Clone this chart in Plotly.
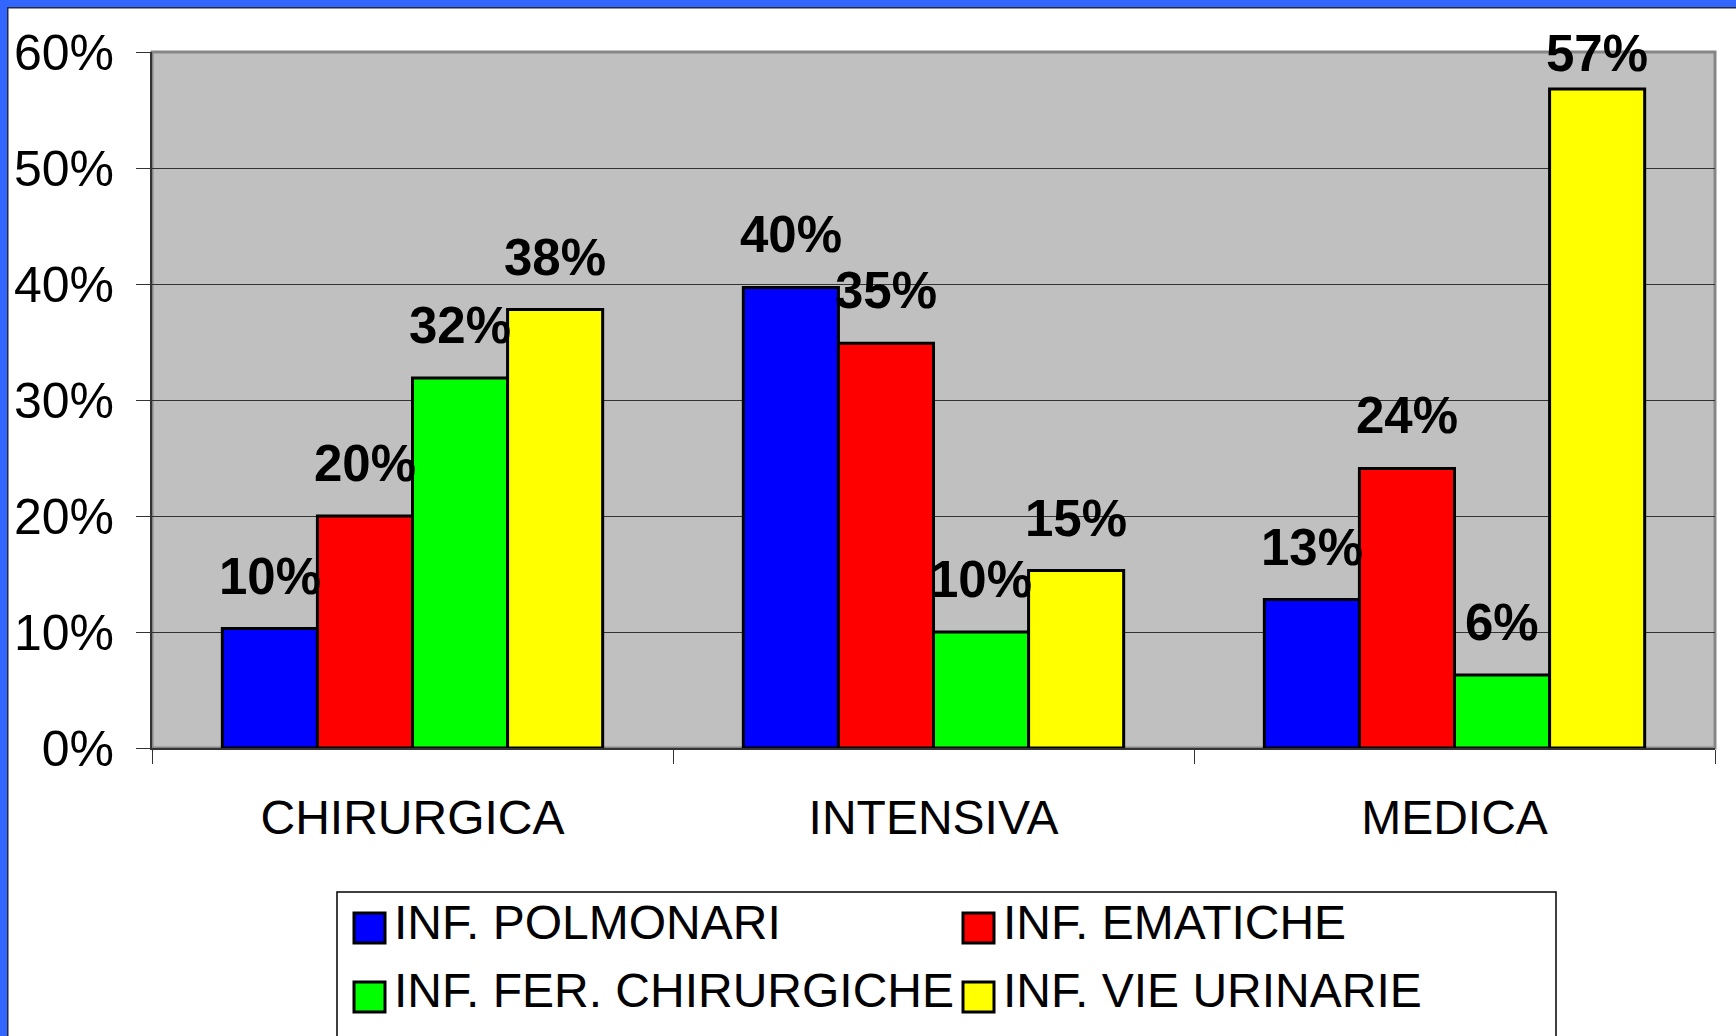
import plotly.graph_objects as go

categories = ["CHIRURGICA", "INTENSIVA", "MEDICA"]
series_names = ["INF. POLMONARI", "INF. EMATICHE", "INF. FER. CHIRURGICHE", "INF. VIE URINARIE"]
series_colors = ["#0000FF", "#FF0000", "#00FF00", "#FFFF00"]
# values as fractions
polmonari = [0.103, 0.397, 0.128]
ematiche = [0.200, 0.349, 0.241]
ferite = [0.319, 0.100, 0.063]
urinarie = [0.378, 0.153, 0.568]
series_values = [polmonari, ematiche, ferite, urinarie]
y_ticks = [0, 0.1, 0.2, 0.3, 0.4, 0.5, 0.6]

W, H = 1736, 1036
ML, MR, MT, MB = 152, 21, 52, 288
PW, PH = W - ML - MR, H - MT - MB
BARGAP = 0.27
YMAX = 0.6
FONT = "Arial, Liberation Sans, sans-serif"
BLUE = "#3366FF"
LABEL_GAP = 22       # px between bar top and label box
LABEL_MIN_TOP = 86   # labels are not pushed above this bar-top pixel row


def px_x(px):
    return (px - ML) / PW


def px_y(py):
    return (H - MB - py) / PH


fig = go.Figure()
for name, color, vals in zip(series_names, series_colors, series_values):
    fig.add_trace(go.Bar(x=categories, y=vals, name=name, marker_color=color,
                         marker_line=dict(color="black", width=3)))

# value labels above each bar (the tallest one is kept inside the chart, like Excel)
bw = (1 - BARGAP) / len(series_values)
for i, vals in enumerate(series_values):
    for j, v in enumerate(vals):
        bar_top = H - MB - v / YMAX * PH
        shift = LABEL_GAP - max(0, LABEL_MIN_TOP + 20 - bar_top)
        fig.add_annotation(x=j + (i - 1.5) * bw, y=v, text=f"{v:.0%}", showarrow=False,
                           yanchor="bottom", yshift=shift,
                           font=dict(family=FONT, size=51, color="black", weight="bold"))

shapes = []
# plot area border
shapes.append(dict(type="rect", xref="paper", yref="paper", x0=0, x1=1, y0=0, y1=1,
                   line=dict(color="#868686", width=3), layer="below"))
# blue frame on top and left
shapes.append(dict(type="rect", xref="paper", yref="paper", x0=px_x(-2), x1=px_x(W + 2),
                   y0=px_y(7), y1=px_y(-2), fillcolor=BLUE, line=dict(width=0)))
shapes.append(dict(type="rect", xref="paper", yref="paper", x0=px_x(-2), x1=px_x(7),
                   y0=px_y(H + 2), y1=px_y(-2), fillcolor=BLUE, line=dict(width=0)))
shapes.append(dict(type="line", xref="paper", yref="paper", x0=px_x(7), x1=px_x(W + 2),
                   y0=px_y(7.75), y1=px_y(7.75), line=dict(color="#222A44", width=1.5)))
shapes.append(dict(type="line", xref="paper", yref="paper", x0=px_x(7.75), x1=px_x(7.75),
                   y0=px_y(H + 2), y1=px_y(7), line=dict(color="#222A44", width=1.5)))
# legend box
shapes.append(dict(type="rect", xref="paper", yref="paper", x0=px_x(337), x1=px_x(1556),
                   y0=px_y(H + 20), y1=px_y(892), fillcolor="white",
                   line=dict(color="black", width=1.5)))

col_x = [354, 963]
row_y = [928, 997]
for i, (name, color) in enumerate(zip(series_names, series_colors)):
    cx, cy = col_x[i % 2], row_y[i // 2]
    shapes.append(dict(type="rect", xref="paper", yref="paper",
                       x0=px_x(cx), x1=px_x(cx + 31), y0=px_y(cy + 15), y1=px_y(cy - 15),
                       fillcolor=color, line=dict(color="black", width=3)))
    fig.add_annotation(xref="paper", yref="paper", x=px_x(cx + 38), y=px_y(cy - 6),
                       text=name, showarrow=False, xanchor="left", yanchor="middle",
                       font=dict(family=FONT, size=48, color="black"))

fig.update_layout(
    width=W, height=H,
    margin=dict(l=ML, r=MR, t=MT, b=MB),
    paper_bgcolor="white", plot_bgcolor="#C0C0C0",
    barmode="group", bargap=BARGAP, bargroupgap=0,
    showlegend=False,
    shapes=shapes,
    font=dict(family=FONT, color="black"),
)
fig.update_yaxes(range=[0, YMAX], tickvals=y_ticks, tickformat=".0%", automargin=False,
                 showgrid=True, gridcolor="#333333", gridwidth=1,
                 ticks="outside", ticklen=14, tickcolor="#333333", tickwidth=1,
                 showline=True, linecolor="#333333", linewidth=2,
                 ticklabelstandoff=12, tickfont=dict(size=50), zeroline=False)
fig.update_xaxes(type="category", tickson="boundaries", ticks="outside", ticklen=14,
                 tickcolor="#333333", tickwidth=1, showgrid=False, automargin=False,
                 showline=True, linecolor="#333333", linewidth=2,
                 ticklabelstandoff=26, tickfont=dict(size=48))

# put the figure flush with the page corner
fig.write_html("out.html", config={"displayModeBar": False},
               post_script="document.body.style.margin='0';document.body.style.overflow='hidden';")
